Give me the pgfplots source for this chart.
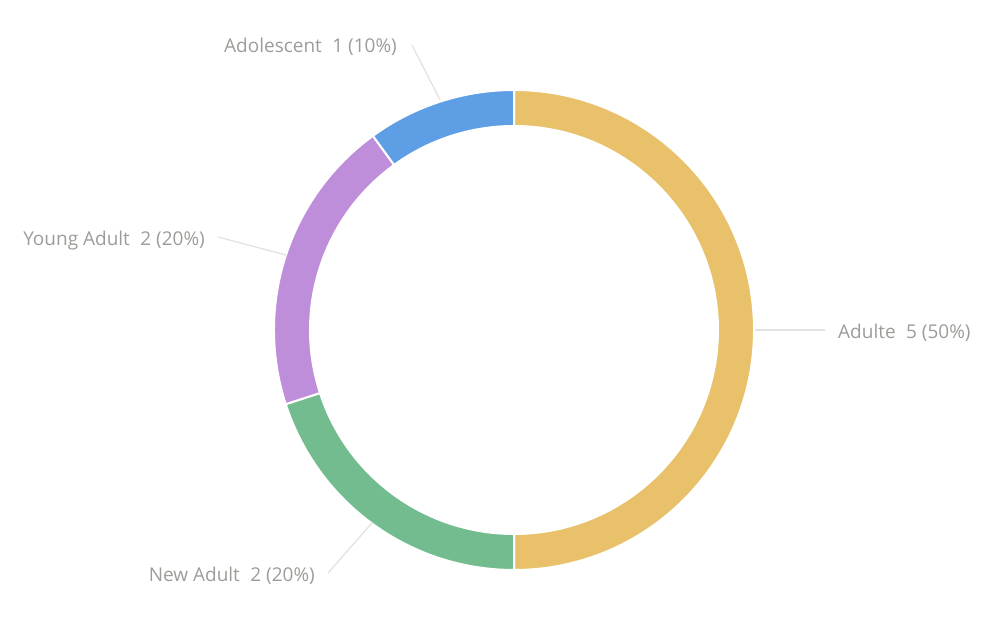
\documentclass[border=0pt]{standalone}
\usepackage{pgfplots}
\pgfplotsset{compat=1.18}
\usepackage{pgfplotstable}
\usepackage{fontspec}
\setmainfont{Open Sans}
\definecolor{cA}{HTML}{E8C16A}
\definecolor{cB}{HTML}{72BC8F}
\definecolor{cC}{HTML}{BF8EDA}
\definecolor{cD}{HTML}{5E9EE5}
\definecolor{lblc}{HTML}{9C9C98}
\definecolor{leadc}{HTML}{E2E2E0}
\pgfplotstableread{
name value
Adulte 5
NewAdult 2
YoungAdult 2
Adolescent 1
}\piedata
\begin{document}
\begin{tikzpicture}
% cumulative angles, clockwise from the top
\pgfplotstablegetrowsof{\piedata}
\pgfmathtruncatemacro{\nrows}{\pgfplotsretval-1}
\def\total{0}
\foreach \i in {0,...,\nrows}{
  \pgfplotstablegetelem{\i}{value}\of\piedata
  \pgfmathsetmacro{\tmp}{\total+\pgfplotsretval}
  \xdef\total{\tmp}
}
\def\cum{0}
\foreach \i in {0,...,\nrows}{
  \pgfplotstablegetelem{\i}{value}\of\piedata
  \pgfmathsetmacro{\sa}{90-360*\cum/\total}
  \pgfmathsetmacro{\nc}{\cum+\pgfplotsretval}
  \pgfmathsetmacro{\ea}{90-360*\nc/\total}
  \expandafter\xdef\csname sa\i\endcsname{\sa}
  \expandafter\xdef\csname ea\i\endcsname{\ea}
  \xdef\cum{\nc}
}
\begin{axis}[
  x=1pt, y=1pt,
  xmin=0, xmax=996, ymin=0, ymax=626,
  hide axis, clip=false, scale only axis,
]
\path (axis cs:0,0) rectangle (axis cs:996,626);
\pgfplotsinvokeforeach{0,...,3}{
  \begin{scope}[shift={(axis cs:514,296)}]
    \filldraw[fill=\ifcase#1 cA\or cB\or cC\else cD\fi, draw=white, line width=2pt, line join=miter]
      (\csname sa#1\endcsname:240pt) arc[start angle=\csname sa#1\endcsname, end angle=\csname ea#1\endcsname, radius=240pt]
      -- (\csname ea#1\endcsname:204pt) arc[start angle=\csname ea#1\endcsname, end angle=\csname sa#1\endcsname, radius=204pt] -- cycle;
  \end{scope}
}
% leader lines
\draw[leadc, line width=1.3pt] (axis cs:755,296) -- (axis cs:825,296);
\draw[leadc, line width=1.3pt] (axis cs:440,526) -- (axis cs:412,581);
\draw[leadc, line width=1.3pt] (axis cs:286,371) -- (axis cs:218,389);
\draw[leadc, line width=1.3pt] (axis cs:372,103) -- (axis cs:328,53);
% labels
\begin{scope}[every node/.style={text=lblc, font=\fontsize{19}{22}\selectfont, inner sep=0pt}]
\node[anchor=west] at (axis cs:838,293) {Adulte\hspace{0.55em}5 (50\%)};
\node[anchor=east] at (axis cs:397,579) {Adolescent\hspace{0.55em}1 (10\%)};
\node[anchor=east] at (axis cs:205,385) {Young Adult\hspace{0.55em}2 (20\%)};
\node[anchor=east] at (axis cs:315,50) {New Adult\hspace{0.55em}2 (20\%)};
\end{scope}
\end{axis}
\end{tikzpicture}
\end{document}
